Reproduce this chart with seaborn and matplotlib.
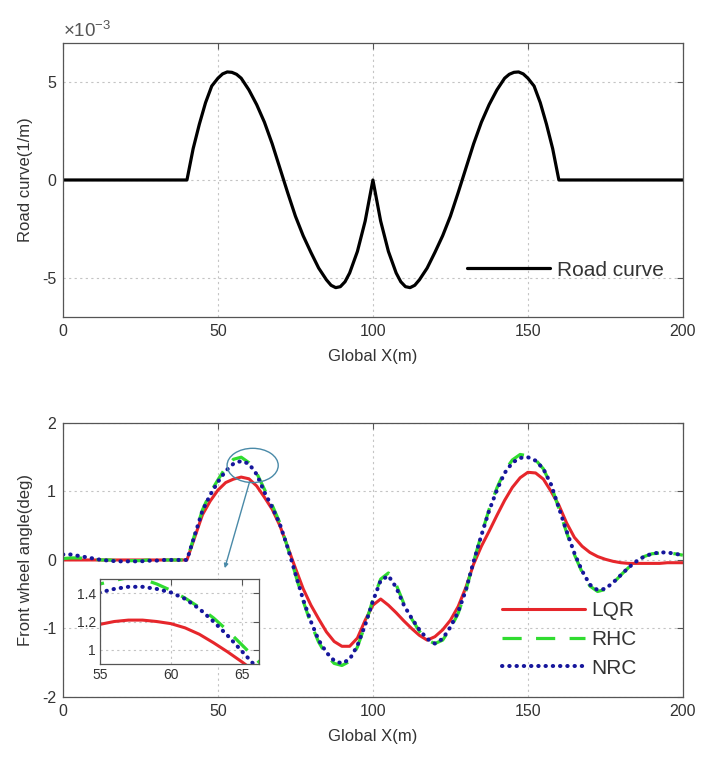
import matplotlib.patches as mpatches
import matplotlib.pyplot as plt
import numpy as np
import pandas as pd
import seaborn as sns

# road curvature (in 1e-3 1/m)
road_x = [0, 40, 42, 44, 46, 48, 50, 51.5, 53, 54.5, 56, 57.5, 60, 62.5, 65, 67.5, 70, 72.5,
          75, 77.5, 80, 82.5, 85, 86.5, 88, 89.5, 91, 92.5, 95, 97.5, 100, 102.5, 105, 107.5,
          109, 110.5, 112, 113.5, 115, 117.5, 120, 122.5, 125, 127.5, 130, 132.5, 135, 137.5,
          140, 142.5, 144, 145.5, 147, 148.5, 150, 152, 154, 156, 158, 160, 200]
road_k = [0, 0, 1.6, 2.85, 3.95, 4.8, 5.2, 5.42, 5.52, 5.5, 5.4, 5.2, 4.6, 3.85, 2.95, 1.85, 0.6, -0.65,
          -1.85, -2.85, -3.7, -4.5, -5.1, -5.38, -5.5, -5.45, -5.2, -4.75, -3.65, -2.1, 0, -2.1, -3.65, -4.75,
          -5.2, -5.45, -5.5, -5.38, -5.1, -4.5, -3.7, -2.85, -1.85, -0.65, 0.6, 1.85, 2.95, 3.85,
          4.6, 5.2, 5.4, 5.5, 5.52, 5.42, 5.2, 4.8, 3.95, 2.85, 1.6, 0, 0]

# front wheel angle (deg), sampled every 2.5 m
angle_x = np.arange(0, 200.1, 2.5)
lqr = [0, 0, 0, 0, 0, 0, 0, 0, 0, 0, 0, 0, 0, 0, 0, 0, 0,
       0.33, 0.66, 0.86, 1.02, 1.13, 1.18, 1.21, 1.185, 1.08, 0.915,
       0.74, 0.5, 0.19, -0.12, -0.42, -0.66, -0.86, -1.05, -1.19, -1.26,
       -1.26, -1.14, -0.88, -0.66, -0.57, -0.66, -0.77, -0.89, -1.0, -1.1,
       -1.17, -1.12, -1.02, -0.88, -0.68, -0.4, -0.06, 0.2, 0.42, 0.65,
       0.87, 1.06, 1.2, 1.28, 1.27, 1.18, 1.0, 0.8, 0.54, 0.33,
       0.2, 0.11, 0.05, 0.01, -0.02, -0.04, -0.05, -0.05, -0.05, -0.05,
       -0.05, -0.04, -0.04, -0.04]
rhc = [0.02, 0.03, 0.03, 0.02, 0.01, 0, 0, -0.01, -0.01, -0.01, -0.01, 0, 0, 0, 0, 0, 0,
       0.37, 0.73, 0.98, 1.17, 1.35, 1.47, 1.5, 1.42, 1.27, 1.03,
       0.8, 0.54, 0.18, -0.21, -0.6, -0.93, -1.2, -1.39, -1.51, -1.54,
       -1.48, -1.27, -0.95, -0.58, -0.28, -0.19, -0.36, -0.64, -0.86, -1.04,
       -1.17, -1.22, -1.17, -1.0, -0.78, -0.45, -0.02, 0.37, 0.74, 1.05,
       1.3, 1.46, 1.54, 1.52, 1.46, 1.33, 1.09, 0.75, 0.4, 0.08,
       -0.18, -0.38, -0.46, -0.43, -0.34, -0.22, -0.11, -0.02, 0.05, 0.09,
       0.1, 0.1, 0.09, 0.07]
nrc = [0.08, 0.08, 0.06, 0.04, 0.02, 0, -0.01, -0.02, -0.02, -0.02, -0.02, -0.01, -0.01, 0, 0, 0, 0,
       0.36, 0.72, 0.95, 1.14, 1.3, 1.405, 1.445, 1.405, 1.25, 0.99,
       0.77, 0.52, 0.18, -0.2, -0.58, -0.9, -1.17, -1.35, -1.47, -1.51,
       -1.45, -1.25, -0.95, -0.6, -0.3, -0.23, -0.4, -0.66, -0.85, -1.02,
       -1.15, -1.22, -1.15, -0.98, -0.76, -0.44, -0.02, 0.36, 0.72, 1.02,
       1.27, 1.42, 1.49, 1.5, 1.45, 1.33, 1.1, 0.76, 0.42, 0.1,
       -0.16, -0.36, -0.44, -0.42, -0.33, -0.22, -0.11, -0.02, 0.05, 0.09,
       0.11, 0.11, 0.09, 0.07]

# zoomed detail around the first peak
inset_x = [54, 55, 56, 57, 58, 59, 60, 61, 62, 63, 64, 65, 66, 67]
inset_lqr = [1.16, 1.18, 1.20, 1.21, 1.21, 1.20, 1.185, 1.155, 1.11, 1.05, 0.985, 0.915, 0.84, 0.76]
inset_rhc = [1.43, 1.465, 1.49, 1.51, 1.5, 1.465, 1.42, 1.365, 1.3, 1.225, 1.135, 1.035, 0.935, 0.83]
inset_nrc = [1.37, 1.405, 1.43, 1.445, 1.445, 1.43, 1.405, 1.36, 1.29, 1.2, 1.1, 0.99, 0.88, 0.77]

sns.set_theme(style="white")
plt.rcParams["font.family"] = ["Liberation Sans", "DejaVu Sans"]
plt.rcParams["mathtext.fontset"] = "custom"
plt.rcParams["mathtext.rm"] = "Liberation Sans"
plt.rcParams["axes.unicode_minus"] = False
plt.rcParams["text.color"] = "#333333"
plt.rcParams["axes.labelcolor"] = "#333333"

txt = "#333333"
red, green, blue = "#e6262b", "#30dc30", "#16169c"
dots = (0, (0.1, 1.7))
dashes = (0, (6, 4.5))

fig = plt.figure(figsize=(7.06, 7.58), dpi=100)
ax1 = fig.add_axes([0.0892, 0.5818, 0.878, 0.3615])
ax2 = fig.add_axes([0.0892, 0.0805, 0.878, 0.3615])
ax3 = fig.add_axes([0.1416, 0.124, 0.2252, 0.1121])


def style(ax, size=11.5):
    for s in ax.spines.values():
        s.set_color("#555555")
        s.set_linewidth(0.9)
    ax.tick_params(direction="in", length=4, width=0.8, colors="#555555",
                   labelcolor=txt, labelsize=size, top=True, right=True, pad=5)
    ax.grid(True, color="#c4c4c4", linestyle=(0, (2, 3)), linewidth=0.8)


road = pd.DataFrame({"x": road_x, "k": road_k})
sns.lineplot(data=road, x="x", y="k", ax=ax1, color="black", linewidth=2.3,
             label="Road curve")
ax1.set_xlim(0, 200)
ax1.set_ylim(-7, 7)
ax1.set_xticks([0, 50, 100, 150, 200])
ax1.set_yticks([-5, 0, 5])
ax1.set_yticklabels(["-5", "0", "5"])
ax1.set_xlabel("Global X(m)", fontsize=12, labelpad=7)
ax1.set_ylabel("Road curve(1/m)", fontsize=12, labelpad=6)
ax1.text(0.0, 1.008, r"$\times10^{-3}$", transform=ax1.transAxes, fontsize=13.5,
         ha="left", va="bottom", color="#555555")
style(ax1)
ax1.legend(loc="upper left", bbox_to_anchor=(0.652, 0.206), frameon=False,
           fontsize=15, handlelength=4.0, handletextpad=0.3, borderpad=0,
           borderaxespad=0)

for ax, xs, ys in [(ax2, angle_x, (lqr, rhc, nrc)),
                   (ax3, inset_x, (inset_lqr, inset_rhc, inset_nrc))]:
    sns.lineplot(x=xs, y=ys[0], ax=ax, color=red, linewidth=2.2, label="LQR")
    sns.lineplot(x=xs, y=ys[1], ax=ax, color=green, linewidth=2.3,
                 linestyle=dashes, label="RHC")
    sns.lineplot(x=xs, y=ys[2], ax=ax, color=blue, linewidth=2.9,
                 linestyle=dots, dash_capstyle="round", label="NRC")

ax2.set_xlim(0, 200)
ax2.set_ylim(-2, 2)
ax2.set_xticks([0, 50, 100, 150, 200])
ax2.set_yticks([-2, -1, 0, 1, 2])
ax2.set_xlabel("Global X(m)", fontsize=12, labelpad=7)
ax2.set_ylabel("Front wheel angle(deg)", fontsize=12, labelpad=6)
style(ax2)
ax2.legend(loc="upper left", bbox_to_anchor=(0.708, 0.35), frameon=False,
           fontsize=15, handlelength=4.0, handletextpad=0.3, borderpad=0,
           borderaxespad=0, labelspacing=0.47)

ax2.add_patch(mpatches.Ellipse((61.2, 1.38), 16.5, 0.5, fill=False,
                               edgecolor="#4a8aa8", linewidth=1.0, zorder=5))
ax2.annotate("", xy=(52.2, -0.12), xytext=(60.2, 1.14),
             arrowprops=dict(arrowstyle="-|>", color="#4a8aa8", lw=1.0,
                             mutation_scale=6, shrinkA=0, shrinkB=0))

ax3.set_xlim(55, 66.2)
ax3.set_ylim(0.9, 1.5)
ax3.set_xticks([55, 60, 65])
ax3.set_yticks([1, 1.2, 1.4])
ax3.set_yticklabels(["1", "1.2", "1.4"])
ax3.set_xlabel(None)
ax3.set_ylabel(None)
style(ax3, size=10)
ax3.tick_params(pad=3)
ax3.legend().remove()
ax3.set_facecolor("white")

fig.savefig("out.png", dpi=100)
